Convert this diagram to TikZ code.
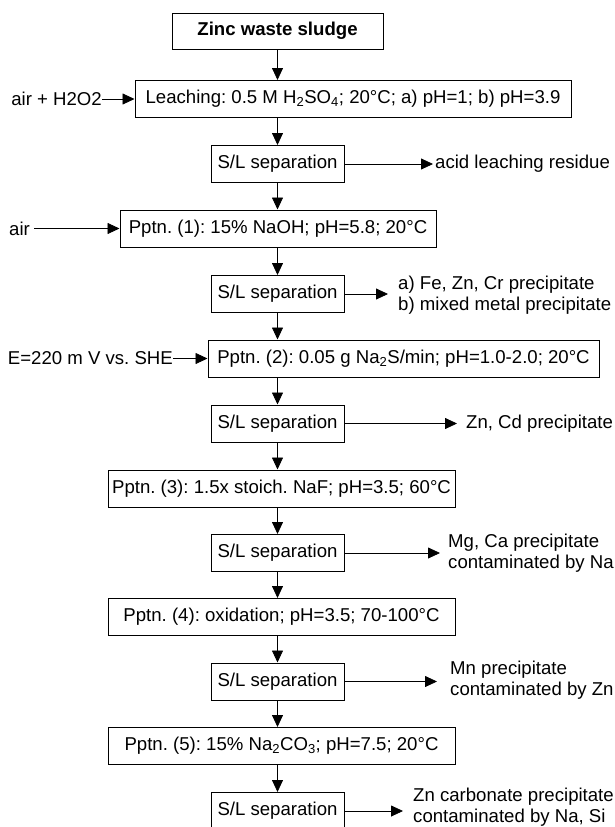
\documentclass[tikz,border=0pt]{standalone}
\usepackage{fontspec}
\setmainfont{Liberation Sans}
\usetikzlibrary{arrows.meta}
\frenchspacing
\begin{document}
\begin{tikzpicture}[x=1pt,y=-1pt,
  every node/.style={font=\fontsize{18.6}{20.5}\selectfont, inner sep=0pt},
  box/.style={draw, line width=1pt, minimum height=37pt},
  slbox/.style={box, minimum width=133pt},
  arr/.style={line width=0.8pt, -{Triangle[length=12pt,width=11pt]}},
  side/.style={anchor=west, align=left},
]
\useasboundingbox (0,0) rectangle (615,827);

% main column
\node[box, minimum width=211pt, minimum height=36pt, font=\fontsize{18.6}{20.5}\selectfont\bfseries] (zinc) at (277.5,31) {Zinc waste sludge};
\node[box, minimum width=436pt] (leach) at (353,99) {Leaching: 0.5 M H\textsubscript{2}SO\textsubscript{4}; 20°C; a) pH=1; b) pH=3.9};
\node[slbox] (sl1) at (277.5,164) {S/L separation};
\node[box, minimum width=316pt] (p1) at (278,228.5) {Pptn. (1): 15\% NaOH; pH=5.8; 20°C};
\node[slbox] (sl2) at (277.5,294) {S/L separation};
\node[box, minimum width=391pt] (p2) at (403.5,358.5) {Pptn. (2): 0.05 g Na\textsubscript{2}S/min; pH=1.0-2.0; 20°C};
\node[slbox] (sl3) at (277.5,423.5) {S/L separation};
\node[box, minimum width=347pt] (p3) at (281.5,488.5) {Pptn. (3): 1.5x stoich. NaF; pH=3.5; 60°C};
\node[slbox] (sl4) at (277.5,553) {S/L separation};
\node[box, minimum width=347pt] (p4) at (281.5,617) {Pptn. (4): oxidation; pH=3.5; 70-100°C};
\node[slbox] (sl5) at (277.5,681.5) {S/L separation};
\node[box, minimum width=347pt] (p5) at (281.5,746) {Pptn. (5): 15\% Na\textsubscript{2}CO\textsubscript{3}; pH=7.5; 20°C};
\node[slbox] (sl6) at (277.5,811) {S/L separation};

% vertical connectors
\foreach \a/\b in {zinc/leach, leach/sl1, sl1/p1, p1/sl2, sl2/p2, p2/sl3, sl3/p3, p3/sl4, sl4/p4, p4/sl5, sl5/p5, p5/sl6}
  \draw[arr] (sl1.south |- \a.south) -- (sl1.south |- \b.north);

% inputs
\node[anchor=east] (inA) at (102,99) {air + H2O2};
\node[anchor=west] (inB) at (9,228.5) {air};
\node[anchor=east] (inC) at (173,358.5) {E=220 m V vs. SHE};
\draw[arr] (inA.east) -- (inA.east -| leach.west);
\draw[arr] ([xshift=4pt]inB.east) -- (inB.east -| p1.west);
\draw[arr] (inC.east) -- (inC.east -| p2.west);

% outputs
\node[side] (o1) at (435,164) {acid leaching residue};
\node[side] (o2) at (398,295) {a) Fe, Zn, Cr precipitate\\b) mixed metal precipitate};
\node[side] (o3) at (466,423.5) {Zn, Cd precipitate};
\node[side] (o4) at (448,553) {Mg, Ca precipitate\\contaminated by Na};
\node[side] (o5) at (450,680) {Mn precipitate\\contaminated by Zn};
\node[side] (o6) at (413,807) {Zn carbonate precipitate\\contaminated by Na, Si};
\draw[arr, shorten >=2pt] (sl1.east) -- (sl1.east -| o1.west);
\draw[arr, shorten >=10pt] (sl2.east) -- (sl2.east -| o2.west);
\draw[arr, shorten >=9pt] (sl3.east) -- (sl3.east -| o3.west);
\draw[arr, shorten >=8pt] (sl4.east) -- (sl4.east -| o4.west);
\draw[arr, shorten >=13pt] (sl5.east) -- (sl5.east -| o5.west);
\draw[arr, shorten >=10pt] (sl6.east) -- (sl6.east -| o6.west);
\end{tikzpicture}
\end{document}
